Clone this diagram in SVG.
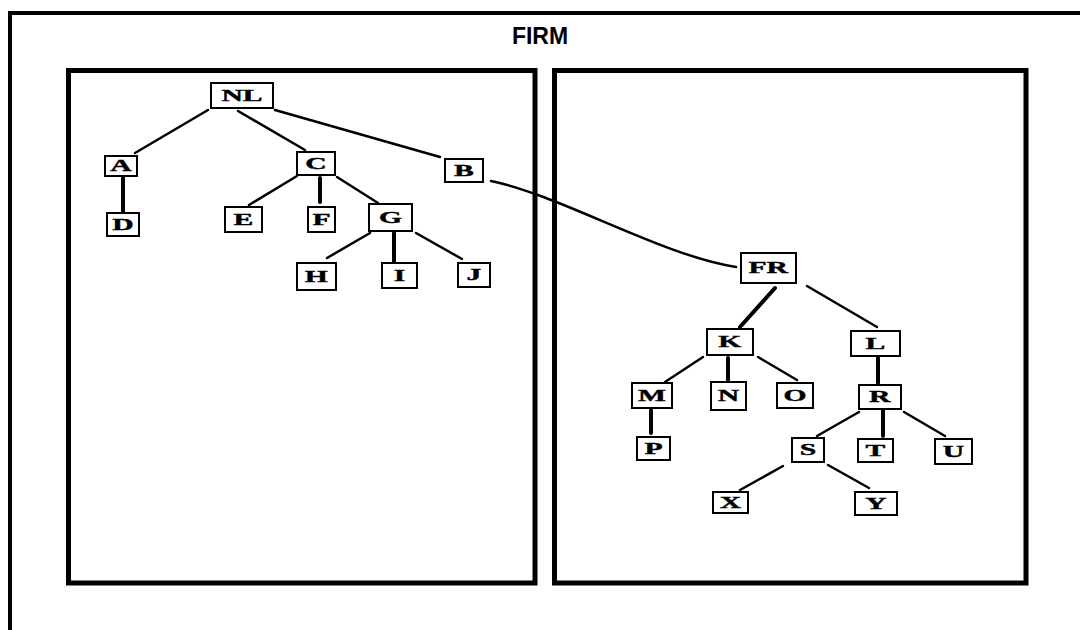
<svg xmlns="http://www.w3.org/2000/svg" width="1080" height="630" viewBox="0 0 1080 630">
<style>
.frame{fill:none;stroke:#000;stroke-width:4}
.panel{fill:none;stroke:#000;stroke-width:5}
.box{fill:#fff;stroke:#000;stroke-width:2}
.lbl{font-family:"Liberation Serif","Times New Roman",serif;font-weight:bold;font-size:16px;text-anchor:middle;fill:#000;stroke:#000;stroke-width:0.4;transform-box:fill-box;transform-origin:center;transform:scaleX(1.85)}
.title{font-family:"Liberation Sans",Arial,sans-serif;font-weight:bold;font-size:23px;text-anchor:middle;fill:#000}
.edge{fill:none;stroke:#000;stroke-width:2.5;stroke-linecap:round}
.thick{stroke-width:4}
</style>
<rect width="1080" height="630" fill="#fff"/>
<g id="frames">
<rect class="frame" x="10" y="13" width="1100" height="700"/>
<text class="title" x="540" y="44">FIRM</text>
<rect class="panel" x="68.5" y="70.5" width="466.5" height="512.5"/>
<rect class="panel" x="554.5" y="70.5" width="471.5" height="512.5"/>
</g>
<g id="connectors">
<line class="edge" x1="208" y1="110" x2="135" y2="153"/>
<line class="edge" x1="238" y1="111" x2="305" y2="150"/>
<line class="edge" x1="275" y1="110" x2="440" y2="157"/>
<line class="edge thick" x1="123" y1="177" x2="123" y2="212"/>
<line class="edge" x1="297" y1="176" x2="249" y2="205"/>
<line class="edge thick" x1="320" y1="178" x2="320" y2="202"/>
<line class="edge" x1="337" y1="177" x2="378" y2="203"/>
<line class="edge" x1="370" y1="233" x2="327" y2="258"/>
<line class="edge thick" x1="394" y1="233" x2="394" y2="262"/>
<line class="edge" x1="416" y1="233" x2="462" y2="259"/>
<path class="edge" d="M491,181 C560,195 660,255 736,267"/>
<line class="edge thick" x1="775" y1="288" x2="740" y2="327"/>
<line class="edge" x1="807" y1="286" x2="877" y2="327"/>
<line class="edge" x1="703" y1="357" x2="665" y2="382"/>
<line class="edge thick" x1="728" y1="358" x2="728" y2="380"/>
<line class="edge" x1="758" y1="357" x2="797" y2="380"/>
<line class="edge thick" x1="651" y1="410" x2="651" y2="433"/>
<line class="edge thick" x1="878" y1="358" x2="878" y2="383"/>
<line class="edge" x1="859" y1="412" x2="817" y2="436"/>
<line class="edge thick" x1="883" y1="410" x2="883" y2="436"/>
<line class="edge" x1="904" y1="412" x2="945" y2="436"/>
<line class="edge" x1="783" y1="466" x2="740" y2="490"/>
<line class="edge" x1="828" y1="465" x2="869" y2="488"/>
</g>
<g id="NL"><rect class="box" x="211" y="83" width="62" height="25"/><text class="lbl" x="242" y="101">NL</text></g>
<g id="A"><rect class="box" x="105" y="156" width="32" height="20"/><text class="lbl" x="121" y="171.5">A</text></g>
<g id="D"><rect class="box" x="107" y="213" width="32" height="23"/><text class="lbl" x="123" y="230">D</text></g>
<g id="C"><rect class="box" x="297" y="152" width="38" height="23"/><text class="lbl" x="316" y="169">C</text></g>
<g id="B"><rect class="box" x="445" y="159" width="38" height="23"/><text class="lbl" x="464" y="176">B</text></g>
<g id="E"><rect class="box" x="225" y="207" width="37" height="25"/><text class="lbl" x="243.5" y="225">E</text></g>
<g id="F"><rect class="box" x="308" y="207" width="27" height="25"/><text class="lbl" x="321.5" y="225">F</text></g>
<g id="G"><rect class="box" x="369" y="204" width="43" height="27"/><text class="lbl" x="390.5" y="223">G</text></g>
<g id="H"><rect class="box" x="297" y="263" width="39" height="27"/><text class="lbl" x="316.5" y="282">H</text></g>
<g id="I"><rect class="box" x="382" y="263" width="35" height="25"/><text class="lbl" x="399.5" y="281">I</text></g>
<g id="J"><rect class="box" x="458" y="263" width="32" height="24"/><text class="lbl" x="474" y="280.5">J</text></g>
<g id="FR"><rect class="box" x="741" y="253" width="55" height="30"/><text class="lbl" x="768.5" y="273.5">FR</text></g>
<g id="K"><rect class="box" x="707" y="329" width="46" height="26"/><text class="lbl" x="730" y="347.5">K</text></g>
<g id="L"><rect class="box" x="851" y="331" width="49" height="25"/><text class="lbl" x="875.5" y="349">L</text></g>
<g id="M"><rect class="box" x="632" y="383" width="40" height="25"/><text class="lbl" x="652" y="401">M</text></g>
<g id="N"><rect class="box" x="711" y="382" width="35" height="28"/><text class="lbl" x="728.5" y="401.5">N</text></g>
<g id="O"><rect class="box" x="777" y="383" width="36" height="25"/><text class="lbl" x="795" y="401">O</text></g>
<g id="R"><rect class="box" x="859" y="385" width="42" height="24"/><text class="lbl" x="880" y="402.5">R</text></g>
<g id="P"><rect class="box" x="637" y="437" width="33" height="23"/><text class="lbl" x="653.5" y="454">P</text></g>
<g id="S"><rect class="box" x="792" y="438" width="32" height="24"/><text class="lbl" x="808" y="455.5">S</text></g>
<g id="T"><rect class="box" x="858" y="439" width="35" height="23"/><text class="lbl" x="875.5" y="456">T</text></g>
<g id="U"><rect class="box" x="935" y="439" width="37" height="25"/><text class="lbl" x="953.5" y="457">U</text></g>
<g id="X"><rect class="box" x="713" y="492" width="35" height="21"/><text class="lbl" x="730.5" y="508">X</text></g>
<g id="Y"><rect class="box" x="855" y="492" width="42" height="23"/><text class="lbl" x="876" y="509">Y</text></g>
</svg>
